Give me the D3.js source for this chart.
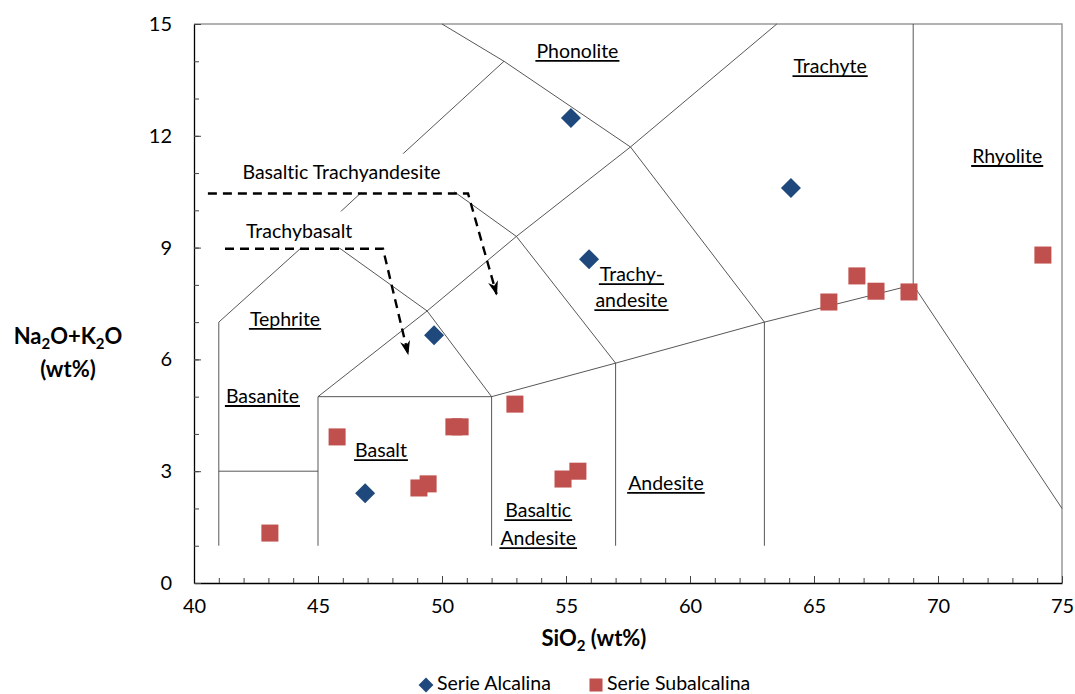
<!DOCTYPE html>
<html lang="en">
<head>
  <meta charset="UTF-8">
  <title>TAS diagram</title>
  <script src="https://d3js.org/d3.v7.min.js"></script>
  <style>
    body { margin: 0; background: #fff; font-family: Lato, "Open Sans", sans-serif; }
    svg { display: block; font-variant-ligatures: none; }
    .tick text { font-size: 20px; fill: #000; font-family: Lato, "Open Sans", sans-serif; }
    .field { font-size: 19.5px; fill: #000; }
  </style>
</head>
<body>
  <svg width="1075" height="694"></svg>

  <script>
    // data
    const alcalinaX = [55.2, 64.07, 55.93, 49.68, 46.9];
    const alcalinaY = [12.48, 10.6, 8.69, 6.65, 2.41];

    const subalcalinaX = [43.06, 45.77, 50.48, 50.73, 49.07, 49.44, 52.94, 54.88, 55.48, 65.6, 66.73, 67.5, 68.83, 74.23];
    const subalcalinaY = [1.34, 3.92, 4.19, 4.19, 2.55, 2.66, 4.8, 2.79, 3.0, 7.54, 8.24, 7.83, 7.81, 8.8];

    const xTicks = [40, 45, 50, 55, 60, 65, 70, 75];
    const yTicks = [0, 3, 6, 9, 12, 15];

    // TAS field boundaries (SiO2, Na2O+K2O)
    const boundaries = [
      [[41, 1], [41, 7], [45, 9.4], [48.4, 11.5], [52.5, 14], [50, 15]],
      [[41, 3], [45, 3]],
      [[45, 1], [45, 5], [52, 5], [52, 1]],
      [[45, 5], [49.4, 7.3], [53, 9.3], [57.6, 11.7], [63.5, 15]],
      [[45, 9.4], [49.4, 7.3], [52, 5]],
      [[48.4, 11.5], [53, 9.3], [57, 5.9], [57, 1]],
      [[52.5, 14], [57.6, 11.7], [63, 7], [63, 1]],
      [[52, 5], [57, 5.9], [63, 7], [69, 8], [69, 15]],
      [[69, 8], [75, 2]]
    ];

    // field names: centre x, baseline y (first line)
    const fieldLabels = [
      { lines: ["Phonolite"], x: 55.46, y: 14.09 },
      { lines: ["Trachyte"], x: 65.65, y: 13.68 },
      { lines: ["Rhyolite"], x: 72.79, y: 11.27 },
      { lines: ["Trachy-", "andesite"], x: 57.64, y: 8.1 },
      { lines: ["Tephrite"], x: 43.67, y: 6.9 },
      { lines: ["Basanite"], x: 42.76, y: 4.83 },
      { lines: ["Basalt"], x: 47.54, y: 3.38 },
      { lines: ["Basaltic", "Andesite"], x: 53.88, y: 1.77 },
      { lines: ["Andesite"], x: 59.03, y: 2.5 }
    ];

    // labels sitting on white boxes above the dashed arrows
    const boxLabels = [
      { text: "Basaltic Trachyandesite", x: 45.95, y: 10.84, x0: 41.4, x1: 50.5, y0: 10.45, y1: 11.52 },
      { text: "Trachybasalt", x: 44.24, y: 9.26, x0: 41.7, x1: 47.0, y0: 8.97, y1: 9.97 }
    ];

    const arrows = [
      [[40.56, 10.45], [51.05, 10.45], [52.2, 7.75]],
      [[41.25, 8.97], [47.62, 8.97], [48.63, 6.15]]
    ];

    const svg = d3.select("svg");
    const x = d3.scaleLinear().domain([40, 75]).range([194, 1062]);
    const y = d3.scaleLinear().domain([0, 15]).range([583, 24]);

    svg.append("defs").append("marker")
      .attr("id", "arrow")
      .attr("viewBox", "0 0 10 10")
      .attr("refX", 9).attr("refY", 5)
      .attr("markerWidth", 6.5).attr("markerHeight", 6)
      .attr("markerUnits", "strokeWidth")
      .attr("orient", "auto")
      .append("path")
      .attr("d", "M0,1.5 L10,5 L0,8.5 L3,5 Z")
      .attr("fill", "#000");

    // frame (top / right)
    svg.append("path")
      .attr("d", `M${x(40)},${y(15)}H${x(75)}V${y(0)}`)
      .attr("fill", "none").attr("stroke", "#999").attr("stroke-width", 1.5);

    const line = d3.line().x(d => x(d[0])).y(d => y(d[1]));

    svg.append("g").selectAll("path")
      .data(boundaries).enter().append("path")
      .attr("d", line)
      .attr("fill", "none")
      .attr("stroke", "#444")
      .attr("stroke-width", 0.9);

    // white boxes
    svg.append("g").selectAll("rect")
      .data(boxLabels).enter().append("rect")
      .attr("x", d => x(d.x0)).attr("y", d => y(d.y1))
      .attr("width", d => x(d.x1) - x(d.x0))
      .attr("height", d => y(d.y0) - y(d.y1) - 1)
      .attr("fill", "#fff");

    svg.append("g").selectAll("text")
      .data(boxLabels).enter().append("text")
      .attr("class", "field")
      .attr("x", d => x(d.x)).attr("y", d => y(d.y))
      .attr("text-anchor", "middle")
      .text(d => d.text);

    // underlined field names
    const fl = svg.append("g").selectAll("g")
      .data(fieldLabels).enter().append("g");
    fl.each(function(d) {
      const g = d3.select(this);
      const step = d.lines[0] === "Basaltic" ? 28 : 26;
      d.lines.forEach((t, i) => {
        const ty = y(d.y) + i * step;
        const txt = g.append("text")
          .attr("class", "field")
          .attr("x", x(d.x)).attr("y", ty)
          .attr("text-anchor", "middle")
          .text(t);
        const w = txt.node().getComputedTextLength();
        g.append("line")
          .attr("x1", x(d.x) - w / 2 - 1).attr("x2", x(d.x) + w / 2 + 1)
          .attr("y1", ty + 3).attr("y2", ty + 3)
          .attr("stroke", "#000").attr("stroke-width", 1.8);
      });
    });

    // dashed arrows
    svg.append("g").selectAll("path")
      .data(arrows).enter().append("path")
      .attr("d", line)
      .attr("fill", "none")
      .attr("stroke", "#000")
      .attr("stroke-width", 2.4)
      .attr("stroke-dasharray", "9,6")
      .attr("marker-end", "url(#arrow)");

    // axes
    svg.append("g").attr("transform", `translate(0,${y(0)})`)
      .call(d3.axisBottom(x).tickValues(xTicks).tickSizeInner(-7).tickSizeOuter(0).tickPadding(16));
    svg.append("g").attr("transform", `translate(0,${y(0)})`)
      .call(d3.axisBottom(x).tickValues(d3.range(41, 75, 1)).tickSize(-5).tickFormat(""))
      .select(".domain").remove();
    svg.append("g").attr("transform", `translate(${x(40)},0)`)
      .call(d3.axisLeft(y).tickValues(yTicks).tickSizeInner(-7).tickSizeOuter(0).tickPadding(22));
    svg.append("g").attr("transform", `translate(${x(40)},0)`)
      .call(d3.axisLeft(y).tickValues(d3.range(1, 15, 1)).tickSize(-5).tickFormat(""))
      .select(".domain").remove();
    svg.selectAll(".domain").attr("stroke", "#000").attr("stroke-width", 1.3);
    svg.selectAll(".tick line").attr("stroke", "#444");

    // series
    svg.append("g").selectAll("path")
      .data(subalcalinaX.map((v, i) => [v, subalcalinaY[i]]))
      .enter().append("path")
      .attr("d", d3.symbol().type(d3.symbolSquare).size(290)())
      .attr("transform", d => `translate(${x(d[0])},${y(d[1])})`)
      .attr("fill", "#C0504D");

    svg.append("g").selectAll("path")
      .data(alcalinaX.map((v, i) => [v, alcalinaY[i]]))
      .enter().append("path")
      .attr("d", d3.symbol().type(d3.symbolSquare).size(200)())
      .attr("transform", d => `translate(${x(d[0])},${y(d[1])}) rotate(45)`)
      .attr("fill", "#1F497D");

    // titles
    const xt = svg.append("text")
      .attr("x", 594).attr("y", 646)
      .attr("text-anchor", "middle")
      .attr("font-size", 22).attr("font-weight", "bold");
    xt.append("tspan").text("SiO");
    xt.append("tspan").attr("font-size", 15).attr("dy", 5).text("2");
    xt.append("tspan").attr("dy", -5).text(" (wt%)");

    const yt = svg.append("text")
      .attr("x", 68).attr("y", 344)
      .attr("text-anchor", "middle")
      .attr("font-size", 22).attr("font-weight", "bold");
    yt.append("tspan").text("Na");
    yt.append("tspan").attr("font-size", 15).attr("dy", 5).text("2");
    yt.append("tspan").attr("dy", -5).text("O+K");
    yt.append("tspan").attr("font-size", 15).attr("dy", 5).text("2");
    yt.append("tspan").attr("dy", -5).text("O");
    svg.append("text")
      .attr("x", 68).attr("y", 377)
      .attr("text-anchor", "middle")
      .attr("font-size", 22).attr("font-weight", "bold")
      .text("(wt%)");

    // legend
    const legend = svg.append("g").attr("transform", "translate(0,685)");
    legend.append("path")
      .attr("d", d3.symbol().type(d3.symbolSquare).size(110)())
      .attr("transform", "translate(426,0) rotate(45)")
      .attr("fill", "#1F497D");
    legend.append("text").attr("x", 437).attr("y", 0)
      .attr("dominant-baseline", "middle").attr("font-size", 19.5)
      .text("Serie Alcalina");
    legend.append("path")
      .attr("d", d3.symbol().type(d3.symbolSquare).size(170)())
      .attr("transform", "translate(596,0)")
      .attr("fill", "#C0504D");
    legend.append("text").attr("x", 607).attr("y", 0)
      .attr("dominant-baseline", "middle").attr("font-size", 19.5)
      .text("Serie Subalcalina");
  </script>
</body>
</html>
